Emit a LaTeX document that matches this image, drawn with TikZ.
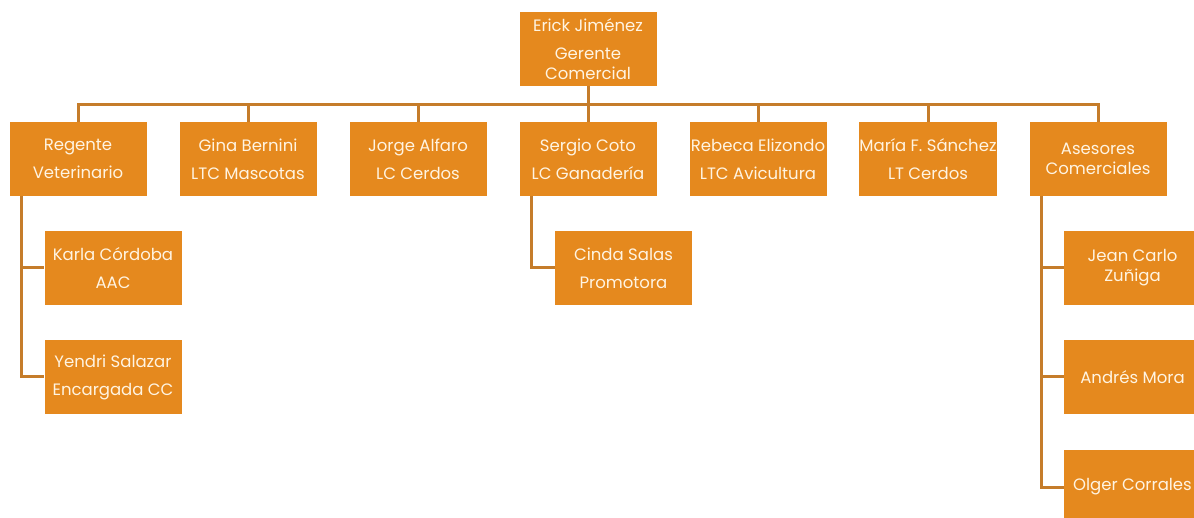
\documentclass[tikz,border=0pt]{standalone}
\usepackage{fontspec}
\setmainfont{Poppins}
\definecolor{boxfill}{RGB}{229,137,30}
\definecolor{linkcol}{RGB}{197,124,42}
\definecolor{txtcol}{RGB}{255,244,226}
\begin{document}
\begin{tikzpicture}[x=1pt,y=-1pt,font=\fontsize{16.5}{20}\selectfont,
  unit/.style={fill=boxfill,text=txtcol,minimum width=137pt,minimum height=74pt,inner sep=0pt,align=center},
  link/.style={draw=linkcol,line width=3pt}]
\useasboundingbox (0,0) rectangle (1194,518);
\clip (0,0) rectangle (1194,518);
\node[unit] (boss) at (588,49) {Erick Jiménez\\[8pt]Gerente\\Comercial};
% second row
\foreach \n/\x/\t in {reg/78/{Regente\\[8pt]Veterinario},gina/248/{Gina Bernini\\[8pt]LTC Mascotas},
  jorge/418/{Jorge Alfaro\\[8pt]LC Cerdos},serg/588/{Sergio Coto\\[8pt]LC Ganadería},
  rebe/758/{Rebeca Elizondo\\[8pt]LTC Avicultura},maria/928/{María F. Sánchez\\[8pt]LT Cerdos},
  ases/1098/{Asesores\\Comerciales}} {
  \node[unit] (\n) at (\x,159) {\t};
  \draw[link] (boss.south) -- ++(0,18) -| (\n.north);
}
% third row
\node[unit] (karla) at (113,268) {Karla Córdoba\\[8pt]AAC};
\node[unit] (yendri) at (113,377) {Yendri Salazar\\[8pt]Encargada CC};
\node[unit] (cinda) at (623.5,268) {Cinda Salas\\[8pt]Promotora};
\node[unit] (jean) at (1132.5,268) {Jean Carlo\\Zuñiga};
\node[unit] (andres) at (1132.5,377) {Andrés Mora};
\node[unit] (olger) at (1132.5,487) {Olger Corrales};
\foreach \p/\c in {reg/karla,reg/yendri,serg/cinda,ases/jean,ases/andres,ases/olger}
  \draw[link] ([xshift=12.5pt]\p.south west) |- (\c.west);
\end{tikzpicture}
\end{document}
